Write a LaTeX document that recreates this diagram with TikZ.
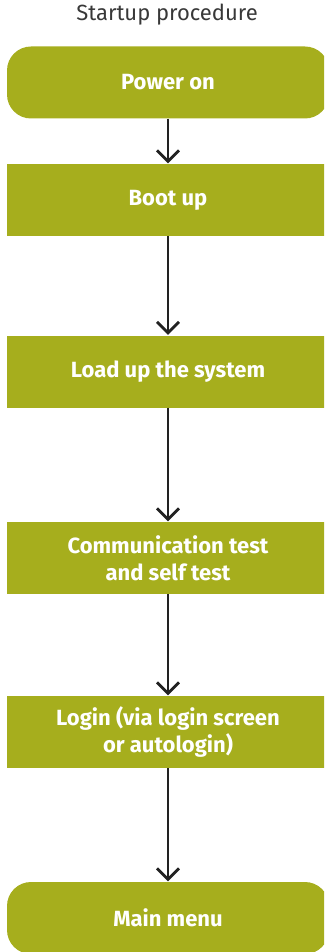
\documentclass[tikz,border=0pt]{standalone}
\usepackage{fontspec}
\setmainfont{Fira Sans}
\usetikzlibrary{arrows.meta}
\definecolor{boxgreen}{RGB}{166,174,29}
\definecolor{arrowdark}{RGB}{34,34,34}
\tikzset{
  stepbox/.style={fill=boxgreen, draw=none, minimum width=322pt, minimum height=72pt,
    text=white, font=\bfseries\fontsize{22}{27}\selectfont, align=center, inner sep=0pt},
  termbox/.style={stepbox, rounded corners=24pt},
  flowarrow/.style={draw=arrowdark, line width=2.8pt, -{Straight Barb[length=11pt,width=22pt,line width=2.8pt]}, shorten >=0.5pt}
}
\begin{document}
\begin{tikzpicture}[x=1pt,y=-1pt]
\useasboundingbox (0,0) rectangle (324,952);
\begin{scope}
\clip (0,0) rectangle (324,952);
\node[font=\fontsize{22}{24}\selectfont, text=arrowdark!90] (title) at (167,15) {Startup procedure};
\node[termbox] (power) at (168,82.5) {Power on};
\node[stepbox] (boot) at (168,200) {Boot up};
\node[stepbox] (load) at (168,371.5) {Load up the system};
\node[stepbox] (comm) at (168,558) {Communication test\\and self test};
\node[stepbox] (login) at (168,732) {Login (via login screen\\or autologin)};
\node[termbox, minimum height=72pt] (main) at (168,918) {Main menu};
\end{scope}
\draw[flowarrow] (power) -- (boot);
\draw[flowarrow] (boot) -- (load);
\draw[flowarrow] (load) -- (comm);
\draw[flowarrow] (comm) -- (login);
\draw[flowarrow] (login) -- (main);
\end{tikzpicture}
\end{document}
